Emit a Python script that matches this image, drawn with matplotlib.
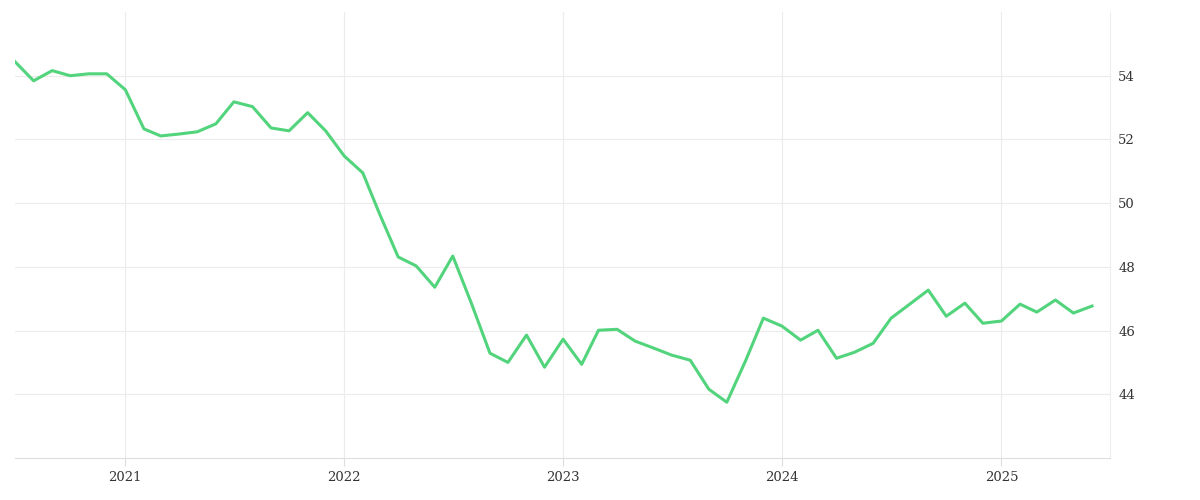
import matplotlib

matplotlib.use("Agg")
import matplotlib.pyplot as plt
import numpy as np
import pandas as pd

START = "2020-07-01"
VALUES = [
    54.44, 53.84, 54.16, 54.00, 54.06, 54.06,
    53.56, 52.33, 52.11, 52.17, 52.24, 52.49, 53.18, 53.03, 52.36, 52.27, 52.84, 52.27,
    51.48, 50.95, 49.66, 48.31, 48.03, 47.36, 48.34, 46.86, 45.29, 45.00, 45.86, 44.85,
    45.73, 44.94, 46.01, 46.04, 45.67, 45.45, 45.23, 45.07, 44.16, 43.75, 45.04, 46.39,
    46.14, 45.70, 46.01, 45.13, 45.32, 45.60, 46.39, 46.83, 47.27, 46.45, 46.86, 46.23,
    46.30, 46.83, 46.58, 46.96, 46.55, 46.77,
]
Y_TICKS = [44, 46, 48, 50, 52, 54]
X_TICK_YEARS = [2021, 2022, 2023, 2024, 2025]

dates = pd.date_range(START, periods=len(VALUES), freq="MS")

fig = plt.figure(figsize=(12, 5), dpi=100)
ax = fig.add_axes([0.0125, 0.084, 0.9125, 0.892])
ax.plot(dates, VALUES, color="#52d47c", linewidth=2.2)

ax.set_xlim(pd.Timestamp("2020-07-01"), pd.Timestamp("2025-07-01"))
ax.set_ylim(42, 56)
ax.set_xticks([pd.Timestamp(f"{y}-01-01") for y in X_TICK_YEARS])
ax.set_xticklabels([str(y) for y in X_TICK_YEARS])
ax.set_yticks(Y_TICKS)
ax.yaxis.tick_right()
ax.grid(True, color="#ececec", linewidth=0.8)
ax.set_axisbelow(True)
for side in ("top", "left"):
    ax.spines[side].set_visible(False)
ax.spines["bottom"].set_color("#dddddd")
ax.spines["right"].set_color("#eeeeee")
ax.tick_params(axis="x", length=6, color="#dddddd", labelsize=9.5, labelcolor="#333333")
ax.tick_params(axis="y", length=0, pad=6, labelsize=9.5, labelcolor="#333333")
for label in ax.get_xticklabels() + ax.get_yticklabels():
    label.set_family("DejaVu Serif")

fig.savefig("out.png", dpi=100)
